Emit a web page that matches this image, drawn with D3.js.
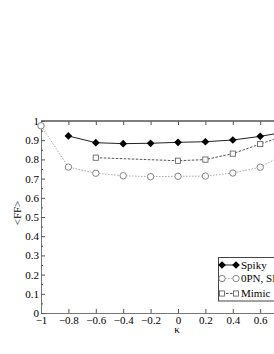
<!DOCTYPE html>
<html>
<head>
<meta charset="utf-8">
<script src="https://cdn.jsdelivr.net/npm/d3@7"></script>
<style>
  body { margin: 0; background: #fff; }
  svg text { font-family: "Liberation Serif", "Times New Roman", serif; }
</style>
</head>
<body>
<svg></svg>
<script>
// data
const kappa = [-1, -0.8, -0.6, -0.4, -0.2, 0, 0.2, 0.4, 0.6, 0.8];
const spiky = [null, 0.922, 0.887, 0.882, 0.884, 0.889, 0.892, 0.901, 0.92, 0.945];
const opn   = [0.975, 0.76, 0.728, 0.715, 0.71, 0.712, 0.713, 0.729, 0.759, 0.835];
const mimic = [null, null, 0.809, null, null, 0.793, 0.799, 0.83, 0.88, 0.93];
const xTicks = [-1, -0.8, -0.6, -0.4, -0.2, 0, 0.2, 0.4, 0.6, 0.8, 1];
const yTicks = [0, 0.1, 0.2, 0.3, 0.4, 0.5, 0.6, 0.7, 0.8, 0.9, 1];
const legendNames = ["Spiky", "0PN, SPN", "Mimic"];

const serif = "'Liberation Serif', 'Times New Roman', serif";

const svg = d3.select("svg")
    .attr("width", 274)
    .attr("height", 354);

const x = d3.scaleLinear().domain([-1, 1]).range([41, 315]);
const y = d3.scaleLinear().domain([0, 1]).range([313, 121]);

// top border
svg.append("line")
    .attr("x1", x(-1)).attr("x2", x(1))
    .attr("y1", y(1)).attr("y2", y(1))
    .attr("stroke", "#000");

const fmt = d => d3.format("")(+d.toFixed(1));

// bottom axis, ticks point inward
const gx = svg.append("g")
    .attr("transform", `translate(0,${y(0)})`)
    .call(d3.axisBottom(x).tickValues(xTicks).tickSize(-4).tickPadding(3).tickFormat(fmt));
// top ticks
svg.append("g")
    .attr("transform", `translate(0,${y(1)})`)
    .call(d3.axisTop(x).tickValues(xTicks).tickSize(-4).tickFormat(""))
    .call(g => g.select(".domain").remove());

// left axis + minor ticks
const gy = svg.append("g")
    .attr("transform", `translate(${x(-1)},0)`)
    .call(d3.axisLeft(y).tickValues(yTicks).tickSize(-4).tickPadding(2).tickFormat(fmt));
svg.append("g")
    .attr("transform", `translate(${x(-1)},0)`)
    .call(d3.axisLeft(y).tickValues(d3.range(0.05, 1, 0.1)).tickSize(-2).tickFormat(""))
    .call(g => g.select(".domain").remove());

svg.selectAll(".domain").attr("stroke", "#777");
svg.selectAll(".tick line").attr("stroke", "#555");
svg.selectAll("g").attr("font-family", serif);
svg.selectAll(".tick text").attr("font-size", 11).attr("fill", "#000");

// axis titles
svg.append("text")
    .attr("x", x(0) - 1).attr("y", 333)
    .attr("text-anchor", "middle")
    .attr("font-size", 11)
    .text("κ");
svg.append("text")
    .attr("transform", `translate(21,213) rotate(-90)`)
    .attr("text-anchor", "middle")
    .attr("font-size", 11)
    .text("<FF>");

const series = [
    {vals: spiky, stroke: "#222", dash: null, marker: "diamond"},
    {vals: opn, stroke: "#aaa", dash: "1.5,1.5", marker: "circle"},
    {vals: mimic, stroke: "#555", dash: "2.5,1.5", marker: "square"}
];

const plot = svg.append("g");

function drawMarker(g, type, cx, cy) {
    if (type === "diamond") {
        g.append("path")
            .attr("d", d3.symbol(d3.symbolDiamond2, 38)())
            .attr("transform", `translate(${cx},${cy})`)
            .attr("fill", "#000");
    } else if (type === "circle") {
        g.append("circle")
            .attr("cx", cx).attr("cy", cy).attr("r", 3.2)
            .attr("fill", "#fff").attr("stroke", "#666").attr("stroke-width", 0.8);
    } else {
        g.append("rect")
            .attr("x", cx - 2.6).attr("y", cy - 2.6)
            .attr("width", 5.2).attr("height", 5.2)
            .attr("fill", "#fff").attr("stroke", "#555").attr("stroke-width", 0.8);
    }
}

series.forEach(s => {
    const pts = kappa.map((k, i) => [k, s.vals[i]]).filter(p => p[1] != null);
    plot.append("path")
        .datum(pts)
        .attr("fill", "none")
        .attr("stroke", s.stroke)
        .attr("stroke-width", 1)
        .attr("stroke-dasharray", s.dash)
        .attr("d", d3.line().x(p => x(p[0])).y(p => y(p[1])));
    pts.forEach(p => drawMarker(plot, s.marker, x(p[0]), y(p[1])));
});

// legend
const lg = svg.append("g");
lg.append("rect")
    .attr("x", 218.5).attr("y", 257.5)
    .attr("width", 80).attr("height", 43.5)
    .attr("fill", "#fff").attr("stroke", "#444");
legendNames.forEach((name, i) => {
    const s = series[i];
    const ly = [265, 278.5, 293.5][i];
    lg.append("line")
        .attr("x1", 222).attr("x2", 236)
        .attr("y1", ly).attr("y2", ly)
        .attr("stroke", s.stroke)
        .attr("stroke-dasharray", s.dash);
    drawMarker(lg, s.marker, 222, ly);
    drawMarker(lg, s.marker, 236, ly);
    lg.append("text")
        .attr("x", 241).attr("y", ly)
        .attr("dy", "0.35em")
        .attr("font-size", 11)
        .text(name);
});
</script>
</body>
</html>
